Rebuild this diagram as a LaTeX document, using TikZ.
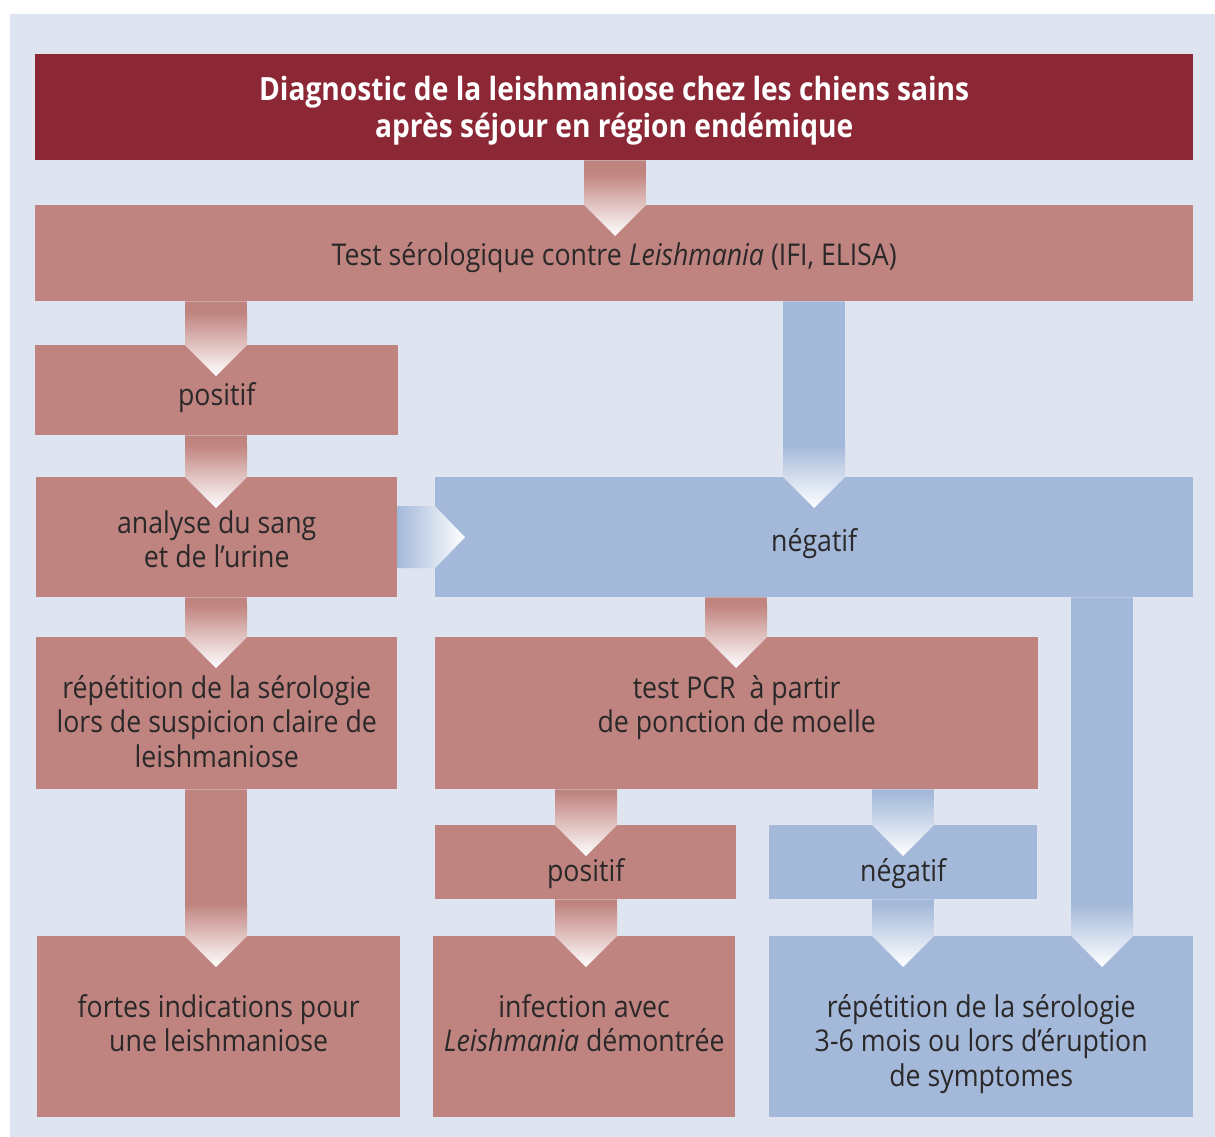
\documentclass[tikz,border=0pt]{standalone}
\usepackage{fontspec}
\setmainfont{Open Sans}[FakeStretch=0.89]
\newfontfamily\headfont{Open Sans}[FakeStretch=0.88]
\usetikzlibrary{calc}
\definecolor{bgblue}{RGB}{222,228,240}
\definecolor{headred}{RGB}{140,40,54}
\definecolor{boxred}{RGB}{192,132,128}
\definecolor{boxblue}{RGB}{164,185,218}
\definecolor{txtgrey}{RGB}{42,40,40}
\tikzset{
  box/.style={anchor=north west, inner sep=0pt, align=center, text=txtgrey,
    font=\fontsize{30}{34.5}\selectfont},
  redbox/.style={box, fill=boxred},
  bluebox/.style={box, fill=boxblue},
  headbox/.style={box, fill=headred, text=white,
    font=\headfont\bfseries\fontsize{32}{37}\selectfont},
  size/.style 2 args={minimum width=#1pt, minimum height=#2pt},
  % last baseline lies #1/2 below the centre
  textdown/.style={text height=#1, text depth=0pt}
}
% fat arrow going down from #1 to #2 at x=#3
\newcommand{\vflow}[4]{
  \path (#3,0 |- #1.south) coordinate (t) (#3,0 |- #2.north) coordinate (b);
  \begin{scope}
    \clip ($(t)+(-31,0)$) -- ($(t)+(31,0)$) -- ($(b)+(31,0)$) -- ($(b)+(0,31)$)
      -- ($(b)+(-31,0)$) -- cycle;
    \fill[#4] ($(t)+(-31,0)$) rectangle ($(b)+(31,31)$);
    \shade[top color=#4, bottom color=white] ($(b)+(-31,-32)$) rectangle ($(b)+(31,31)$);
  \end{scope}
}
% fat arrow going right from #1 to #2
\newcommand{\hflow}[3]{
  \path (#1.east) coordinate (l) (#2.west |- #1.east) coordinate (r);
  \shade[left color=#3, right color=white] ($(l)+(0,-31)$) -- ($(r)+(0,-31)$)
    -- ($(r)+(30,0)$) -- ($(r)+(0,31)$) -- ($(l)+(0,31)$) -- cycle;
}

\begin{document}
\begin{tikzpicture}[x=1pt, y=-1pt]
  \useasboundingbox (0,0) rectangle (1215,1137);
  \fill[bgblue] (10,14) rectangle (1215,1137);

  \node[headbox, size={1158}{106}, textdown=60pt] (head) at (35,54)
    {Diagnostic de la leishmaniose chez les chiens sains\\après séjour en région endémique};
  \node[redbox, size={1158}{96}, textdown=24pt] (sero) at (35,205)
    {Test sérologique contre \textit{Leishmania} (IFI, ELISA)};
  \node[redbox, size={363}{90}, textdown=30pt] (pos) at (35,345) {positif};
  \node[redbox, size={361}{120}, textdown=61pt] (blood) at (36,477) {analyse du sang\\et de l’urine};
  \node[bluebox, size={758}{120}, textdown=28pt] (neg) at (435,477) {négatif};
  \node[redbox, size={361}{152}, textdown=108pt] (again) at (36,637)
    {répétition de la sérologie\\lors de suspicion claire de\\leishmaniose};
  \node[redbox, size={603}{152}, textdown=39pt] (pcr) at (435,637)
    {test PCR\ \ à partir\\de ponction de moelle};
  \node[redbox, size={301}{74}, textdown=39pt] (pcrpos) at (435,825) {positif};
  \node[bluebox, size={268}{74}, textdown=39pt] (pcrneg) at (769,825) {négatif};
  \node[redbox, size={363}{181}, textdown=50pt] (strong) at (37,936)
    {fortes indications pour\\une leishmaniose};
  \node[redbox, size={302}{181}, textdown=50pt] (infect) at (433,936)
    {infection avec\\\textit{Leishmania} démontrée};
  \node[bluebox, size={424}{181}, textdown=119pt] (recheck) at (769,936)
    {répétition de la sérologie\\3-6 mois ou lors d’éruption\\de symptomes};

  \vflow{head}{sero}{615}{boxred}
  \vflow{sero}{pos}{216}{boxred}
  \vflow{pos}{blood}{216}{boxred}
  \vflow{sero}{neg}{814}{boxblue}
  \vflow{blood}{again}{216}{boxred}
  \vflow{neg}{pcr}{736}{boxred}
  \vflow{neg}{recheck}{1102}{boxblue}
  \vflow{again}{strong}{216}{boxred}
  \vflow{pcr}{pcrpos}{586}{boxred}
  \vflow{pcr}{pcrneg}{903}{boxblue}
  \vflow{pcrpos}{infect}{586}{boxred}
  \vflow{pcrneg}{recheck}{903}{boxblue}
  \hflow{blood}{neg}{boxblue}
\end{tikzpicture}
\end{document}
